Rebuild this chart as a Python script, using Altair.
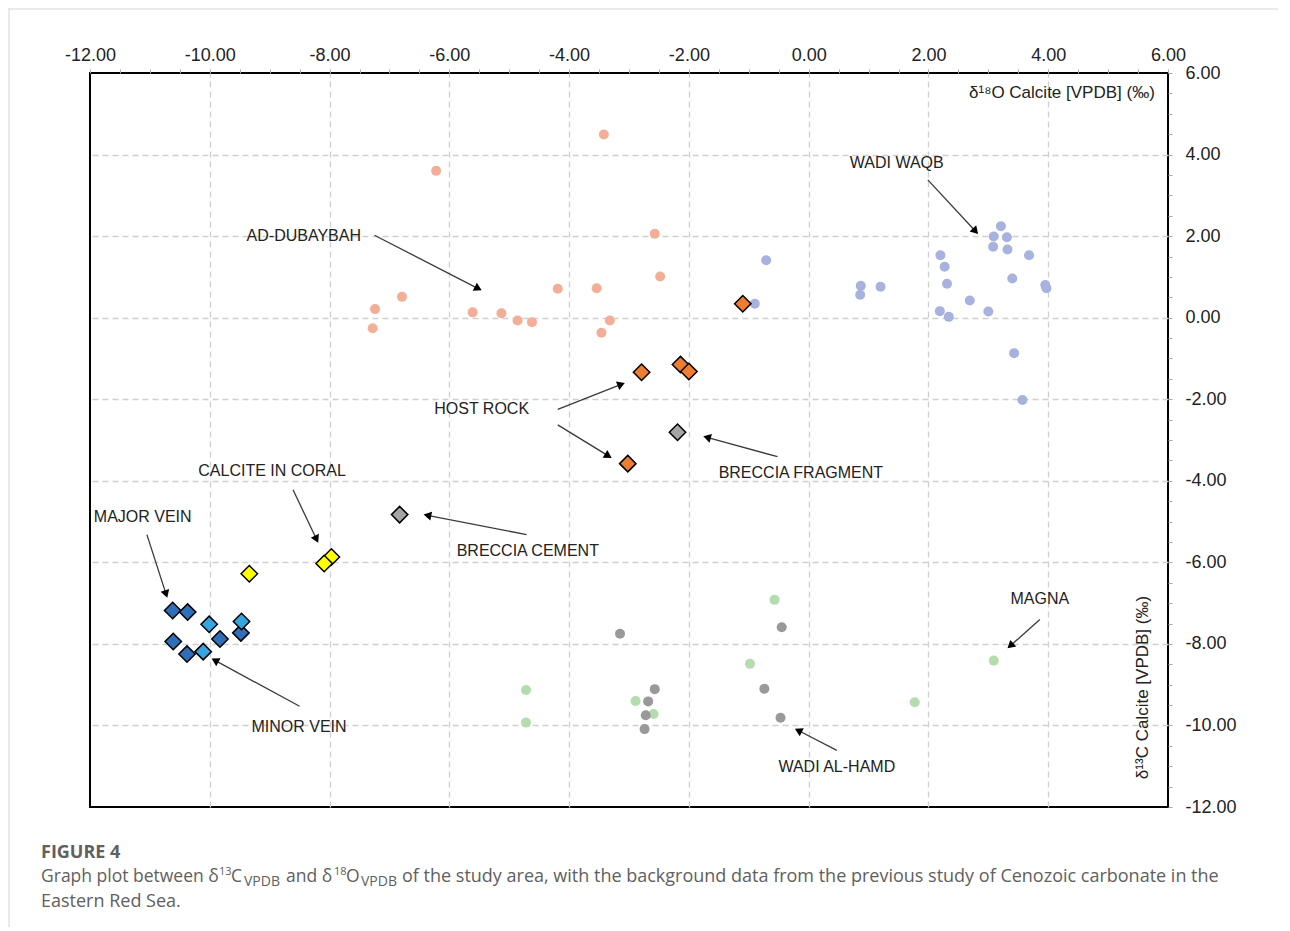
import math
import altair as alt
import pandas as pd

# ---------------- data ----------------
# background data (circles)
dub_x = [-3.42, -6.22, -2.57, -2.48, -4.19, -3.54, -6.79, -7.24, -7.28, -5.61, -5.13, -4.86, -4.62, -3.32, -3.46]
dub_y = [4.49, 3.60, 2.06, 1.01, 0.71, 0.72, 0.51, 0.21, -0.26, 0.13, 0.11, -0.07, -0.11, -0.07, -0.37]

waqb_x = [-0.71, -0.90, 0.87, 0.86, 1.20, 2.20, 2.27, 2.31, 2.19, 2.34, 2.69, 3.00, 3.21, 3.09, 3.31, 3.08, 3.32, 3.68, 3.40, 3.95, 3.97, 3.43, 3.57]
waqb_y = [1.41, 0.34, 0.78, 0.56, 0.76, 1.53, 1.25, 0.83, 0.16, 0.02, 0.42, 0.15, 2.24, 1.99, 1.97, 1.74, 1.67, 1.53, 0.96, 0.80, 0.72, -0.87, -2.02]

magna_x = [-0.57, -0.98, -4.72, -4.72, -2.89, -2.59, 1.77, 3.09]
magna_y = [-6.92, -8.49, -9.13, -9.93, -9.40, -9.72, -9.43, -8.41]

hamd_x = [-3.15, -0.45, -2.57, -2.68, -2.72, -2.74, -0.74, -0.47]
hamd_y = [-7.75, -7.59, -9.11, -9.41, -9.75, -10.09, -9.10, -9.81]

# this study (diamonds)
host_x = [-1.10, -2.79, -2.14, -2.00, -3.02]
host_y = [0.34, -1.34, -1.15, -1.32, -3.58]
frag_x = [-2.19]
frag_y = [-2.81]
cement_x = [-6.83]
cement_y = [-4.83]
coral_x = [-9.34, -7.97, -8.09]
coral_y = [-6.28, -5.87, -6.03]
major_x = [-10.62, -10.37, -10.61, -10.38, -9.83, -9.48]
major_y = [-7.18, -7.22, -7.94, -8.25, -7.88, -7.73]
minor_x = [-10.01, -9.47, -10.11]
minor_y = [-7.52, -7.45, -8.19]

# annotations
ann_text = ["WADI WAQB", "AD-DUBAYBAH", "HOST ROCK", "BRECCIA FRAGMENT", "BRECCIA CEMENT",
            "CALCITE IN CORAL", "MAJOR VEIN", "MINOR VEIN", "WADI AL-HAMD", "MAGNA"]
ann_x = [1.47, -8.43, -5.46, -0.13, -4.69, -8.96, -11.12, -8.51, 0.47, 3.86]
ann_y = [3.80, 2.01, -2.25, -3.80, -5.71, -3.77, -4.90, -10.05, -11.03, -6.91]

arr_x1 = [1.99, -7.25, -4.19, -4.19, -0.52, -4.71, -8.61, -11.05, -8.50, 0.47, 3.86]
arr_y1 = [3.38, 2.02, -2.25, -2.63, -3.41, -5.32, -4.22, -5.32, -9.53, -10.61, -7.40]
arr_x2 = [2.83, -5.46, -3.07, -3.29, -1.76, -6.43, -8.19, -10.71, -9.97, -0.23, 3.32]
arr_y2 = [2.05, 0.67, -1.60, -3.44, -2.91, -4.83, -5.52, -6.87, -8.36, -10.08, -8.11]

tick_vals = [-12.0, -11.5, -11.0, -10.5, -10.0, -9.5, -9.0, -8.5, -8.0, -7.5, -7.0, -6.5, -6.0,
             -5.5, -5.0, -4.5, -4.0, -3.5, -3.0, -2.5, -2.0, -1.5, -1.0, -0.5, 0.0, 0.5, 1.0,
             1.5, 2.0, 2.5, 3.0, 3.5, 4.0, 4.5, 5.0, 5.5, 6.0]

# ---------------- layout ----------------
W, H = 1078, 734
XMIN, XMAX, YMIN, YMAX = -12, 6, -12, 6
SX = W / (XMAX - XMIN)
SY = H / (YMAX - YMIN)

bg_names = ["AD-DUBAYBAH", "WADI WAQB", "MAGNA", "WADI AL-HAMD"]
bg_colors = ["#F3AE98", "#A7B3DE", "#B5DCAE", "#9A999A"]
st_names = ["HOST ROCK", "BRECCIA FRAGMENT", "BRECCIA CEMENT", "CALCITE IN CORAL", "MAJOR VEIN", "MINOR VEIN"]
st_colors = ["#ED7D31", "#A5A5A5", "#A5A5A5", "#FFFF00", "#2E6FB7", "#35A6E0"]

rows = []
for name, xs_, ys_ in [("AD-DUBAYBAH", dub_x, dub_y), ("WADI WAQB", waqb_x, waqb_y),
                       ("MAGNA", magna_x, magna_y), ("WADI AL-HAMD", hamd_x, hamd_y)]:
    for a, b in zip(xs_, ys_):
        rows.append({"group": name, "x": a, "y": b})
df_bg = pd.DataFrame(rows)

rows = []
for name, xs_, ys_ in [("HOST ROCK", host_x, host_y), ("BRECCIA FRAGMENT", frag_x, frag_y),
                       ("BRECCIA CEMENT", cement_x, cement_y), ("CALCITE IN CORAL", coral_x, coral_y),
                       ("MAJOR VEIN", major_x, major_y), ("MINOR VEIN", minor_x, minor_y)]:
    for a, b in zip(xs_, ys_):
        rows.append({"group": name, "x": a, "y": b})
df_st = pd.DataFrame(rows)

df_ann = pd.DataFrame({"label": ann_text, "x": ann_x, "y": ann_y})

# arrows: lines plus rotated triangle heads
HEAD = 80
h_half = math.sqrt(3) / 2 * math.sqrt(HEAD) / 2
arows = []
for x1, y1, x2, y2 in zip(arr_x1, arr_y1, arr_x2, arr_y2):
    dxp = (x2 - x1) * SX
    dyp = -(y2 - y1) * SY
    L = math.hypot(dxp, dyp)
    ux, uy = dxp / L, dyp / L
    ang = math.degrees(math.atan2(dxp, -dyp)) % 360
    cx = x2 - h_half * ux / SX
    cy = y2 + h_half * uy / SY
    arows.append({"x": x1, "y": y1, "x2": cx, "y2": cy, "hx": cx, "hy": cy, "ang": ang})
df_arr = pd.DataFrame(arows)

xs = alt.Scale(domain=[XMIN, XMAX], nice=False, zero=False)
ys = alt.Scale(domain=[YMIN, YMAX], nice=False, zero=False)
major = "datum.value % 2 === 0 && datum.value > -12 && datum.value < 6"
grid_op = {"condition": {"test": major, "value": 1}, "value": 0}
lbl = "datum.value % 2 === 0 ? replace(format(datum.value, '.2f'), '\u2212', '-') : ''"

x_axis = alt.Axis(orient="top", values=tick_vals, labelExpr=lbl, grid=True, gridOpacity=grid_op,
                  gridDash=[6, 4], gridColor="#cfcfcf", gridWidth=1.3, tickSize=4, tickColor="#aaaaaa",
                  domain=False, labelFontSize=18, labelFont="Liberation Sans", labelColor="#222222",
                  labelPadding=5, labelFlush=False, labelOverlap=False, title=None)
y_axis = alt.Axis(orient="right", values=tick_vals, labelExpr=lbl, grid=True, gridOpacity=grid_op,
                  gridDash=[6, 4], gridColor="#cfcfcf", gridWidth=1.3, tickSize=4, tickColor="#aaaaaa",
                  domain=False, labelFontSize=18, labelFont="Liberation Sans", labelColor="#222222",
                  labelPadding=13, labelFlush=False, labelOverlap=False, title=None)

X = lambda f: alt.X(f, type="quantitative", scale=xs, axis=x_axis)
Y = lambda f: alt.Y(f, type="quantitative", scale=ys, axis=y_axis)

circles = alt.Chart(df_bg).mark_circle(size=100, opacity=1).encode(
    x=X("x"), y=Y("y"),
    color=alt.Color("group:N", scale=alt.Scale(domain=bg_names, range=bg_colors), legend=None),
)

diamonds = alt.Chart(df_st).mark_point(shape="diamond", filled=True, size=270, stroke="black",
                                       strokeWidth=1.5, opacity=1).encode(
    x=X("x"), y=Y("y"),
    fill=alt.Fill("group:N", scale=alt.Scale(domain=st_names, range=st_colors), legend=None),
)

lines = alt.Chart(df_arr).mark_rule(color="#3a3a3a", strokeWidth=1.3).encode(
    x=X("x"), y=Y("y"), x2="x2:Q", y2="y2:Q")
heads = alt.Chart(df_arr).mark_point(shape="triangle-up", filled=True, size=HEAD, color="black",
                                     opacity=1).encode(
    x=X("hx"), y=Y("hy"), angle=alt.Angle("ang:Q", scale=None))

labels = alt.Chart(df_ann).mark_text(font="Liberation Sans", fontSize=16, color="#222222",
                                     align="center", baseline="middle").encode(
    x=X("x"), y=Y("y"), text="label:N")

title_df = pd.DataFrame({"t": ["δ¹⁸O Calcite [VPDB] (‰)"], "x": [5.78], "y": [5.51]})
xtitle = alt.Chart(title_df).mark_text(font="Liberation Sans", fontSize=17, color="#222222",
                                       align="right", baseline="middle").encode(
    x=X("x"), y=Y("y"), text="t:N")
ytitle_df = pd.DataFrame({"t": ["δ¹³C Calcite [VPDB] (‰)"], "x": [5.58], "y": [-9.07]})
ytitle = alt.Chart(ytitle_df).mark_text(font="Liberation Sans", fontSize=17, color="#222222",
                                        align="center", baseline="middle", angle=270).encode(
    x=X("x"), y=Y("y"), text="t:N")

# caption (outside the plot area), positions in pixels relative to plot origin
one = pd.DataFrame({"a": [0]})
cap_layers = []
CAPC = "#606060"
segs = [
    ("FIGURE 4", -49, 785, 18, "bold"),
    ("Graph plot between δ", -49, 809, 17.5, "normal"),
    ("13", 129, 802, 11, "normal"),
    ("C", 141, 809, 17.5, "normal"),
    ("VPDB", 154, 813, 14, "normal"),
    ("and δ", 196, 809, 17.5, "normal"),
    ("18", 244, 802, 11, "normal"),
    ("O", 256, 809, 17.5, "normal"),
    ("VPDB", 271, 813, 14, "normal"),
    ("of the study area, with the background data from the previous study of Cenozoic carbonate in the",
     312, 809, 18, "normal"),
    ("Eastern Red Sea.", -49, 834, 18, "normal"),
]
for t, px, py, fs, fw in segs:
    cap_layers.append(
        alt.Chart(one).mark_text(text=t, font="Open Sans", fontSize=fs, fontWeight=fw, color=CAPC,
                                 align="left", baseline="alphabetic").encode(
            x=alt.value(px), y=alt.value(py)))

frame_left = alt.Chart(one).mark_rule(color="#d5d5d5", strokeWidth=1).encode(
    x=alt.value(-81), y=alt.value(-65), y2=alt.value(H + 120))
frame_top = alt.Chart(one).mark_rule(color="#d5d5d5", strokeWidth=1).encode(
    x=alt.value(-81), x2=alt.value(W + 110), y=alt.value(-64))

chart = alt.layer(circles, diamonds, lines, heads, labels, xtitle, ytitle,
                  frame_left, frame_top, *cap_layers).properties(
    width=W, height=H,
    padding={"left": 82, "top": 65, "right": 110, "bottom": 120},
    autosize=alt.AutoSizeParams(type="none"),
).configure_view(stroke="black", strokeWidth=2)

chart.save("out.html", embed_options={"renderer": "svg", "actions": False})
